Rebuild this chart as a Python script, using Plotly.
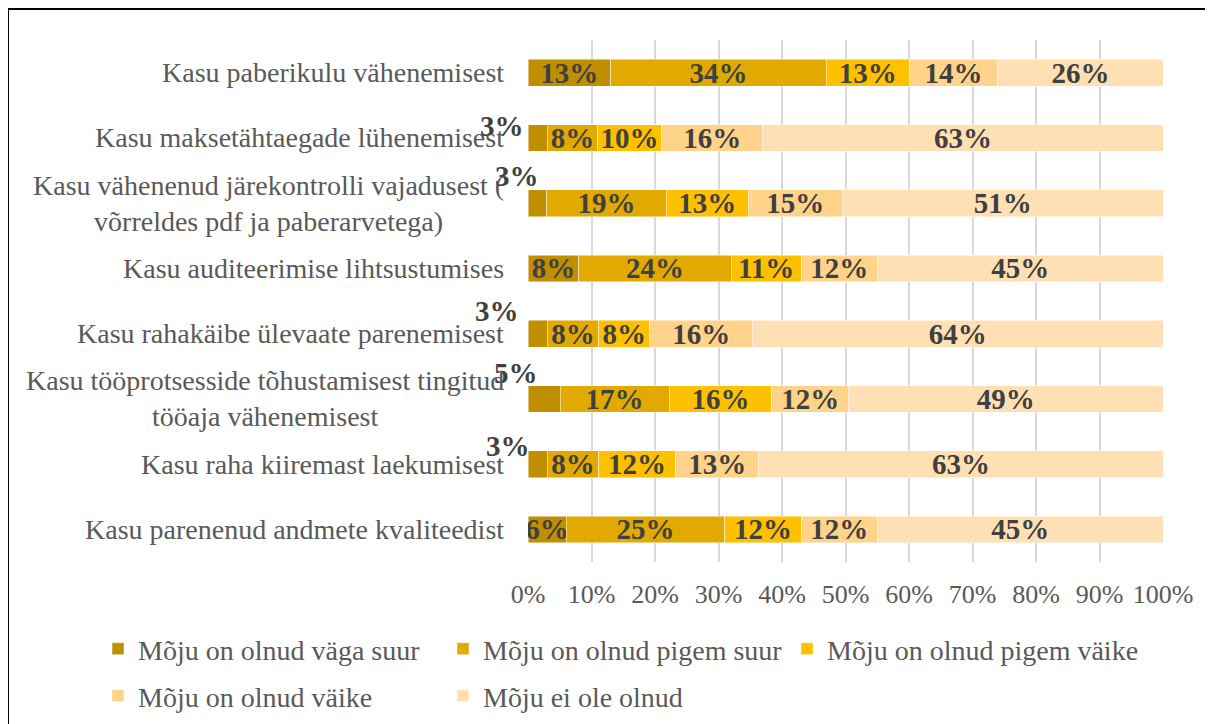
import plotly.graph_objects as go

categories = [
    "Kasu paberikulu vähenemisest",
    "Kasu maksetähtaegade lühenemisest",
    "Kasu vähenenud järekontrolli vajadusest (<br>võrreldes pdf ja paberarvetega)",
    "Kasu auditeerimise lihtsustumises",
    "Kasu rahakäibe ülevaate parenemisest",
    "Kasu tööprotsesside tõhustamisest tingitud<br>tööaja vähenemisest",
    "Kasu raha kiiremast laekumisest",
    "Kasu parenenud andmete kvaliteedist",
]

series_names = [
    "Mõju on olnud väga suur",
    "Mõju on olnud pigem suur",
    "Mõju on olnud pigem väike",
    "Mõju on olnud väike",
    "Mõju ei ole olnud",
]

vaga_suur = [13, 3, 3, 8, 3, 5, 3, 6]
pigem_suur = [34, 8, 19, 24, 8, 17, 8, 25]
pigem_vaike = [13, 10, 13, 11, 8, 16, 12, 12]
vaike = [14, 16, 15, 12, 16, 12, 13, 12]
ei_ole = [26, 63, 51, 45, 64, 49, 63, 45]

series_values = [vaga_suur, pigem_suur, pigem_vaike, vaike, ei_ole]
colors = ["#BF8F00", "#E2AA00", "#FFC000", "#FFD38A", "#FFE0B4"]

tick_vals = [0, 10, 20, 30, 40, 50, 60, 70, 80, 90, 100]
tick_text = [f"{v}%" for v in tick_vals]

# the page puts the figure 8px in from the top-left corner
OFF = 8
W, H = 1213, 724
ML, MT = 528 - OFF, 40 - OFF
MR = W - (1163 - OFF)
MB = H - (562 - OFF)
pw = W - ML - MR
ph = H - MT - MB

SERIF = "Liberation Serif, Times New Roman, serif"
LABEL_COLOR = "#404040"
TEXT_GRAY = "#595959"

# small labels that were moved out of the bar (xshift, yshift) by row index
moved = {1: (-26, 12), 2: (-11, 27), 4: (-31, 23), 5: (-12, 26), 6: (-20, 18)}

# legend rows: which legend each series goes to
legend_of = ["legend", "legend", "legend2", "legend3", "legend3"]

fig = go.Figure()
for i, (name, vals, col) in enumerate(zip(series_names, series_values, colors)):
    txt = []
    for r, v in enumerate(vals):
        if i == 0 and r in moved:
            txt.append("")
        else:
            txt.append(f"{v}%")
    fig.add_trace(go.Bar(
        y=categories, x=vals, name=name, orientation="h",
        marker=dict(color=col, line=dict(color="rgba(255,255,255,0.6)", width=0.8)),
        text=txt, textposition="inside", insidetextanchor="middle",
        constraintext="none",
        textfont=dict(family=SERIF, size=29, color=LABEL_COLOR, weight="bold"),
        hoverinfo="skip", legend=legend_of[i],
    ))

for r, (dx, dy) in moved.items():
    fig.add_annotation(
        x=0, y=categories[r], xref="x", yref="y", text=f"<b>{vaga_suur[r]}%</b>",
        showarrow=False, xanchor="center", yanchor="middle",
        xshift=dx, yshift=dy,
        font=dict(family=SERIF, size=29, color=LABEL_COLOR),
    )

# category labels as centred multi-line annotations
for c in categories:
    fig.add_annotation(
        x=0, y=c, xref="x", yref="y", text=c, showarrow=False,
        xanchor="right", yanchor="middle", align="center", xshift=-22,
        font=dict(family=SERIF, size=28, color=TEXT_GRAY),
    )

# outer frame (right and bottom edges fall outside the picture)
fig.add_shape(
    type="rect", xref="paper", yref="paper",
    x0=(0 - ML) / pw, x1=(W + 10 - ML) / pw,
    y0=(MT + ph - (H + 10)) / ph, y1=(MT + ph - 1) / ph,
    line=dict(color="black", width=2), layer="above",
)


def legend_at(px, py, entry=300):
    leg = dict(
        orientation="h", x=(px - OFF - ML) / pw, xanchor="left",
        y=(MT + ph - (py - OFF)) / ph, yanchor="top",
        font=dict(family=SERIF, size=28, color=TEXT_GRAY),
        traceorder="normal", itemwidth=30, bgcolor="rgba(0,0,0,0)",
    )
    if entry:
        leg.update(entrywidth=entry, entrywidthmode="pixels")
    return leg


fig.update_layout(
    width=W, height=H,
    margin=dict(l=ML, r=MR, t=MT, b=MB, autoexpand=False),
    barmode="stack", barnorm="percent", bargap=0.59,
    plot_bgcolor="white", paper_bgcolor="white",
    font=dict(family=SERIF, color=TEXT_GRAY),
    showlegend=True,
    legend=legend_at(98, 624),
    legend2=legend_at(787, 624, entry=None),
    legend3=legend_at(98, 671),
)
fig.update_xaxes(
    range=[0, 100], tickvals=tick_vals, ticktext=tick_text,
    showgrid=True, gridcolor="#D9D9D9", gridwidth=1.5,
    zeroline=False, showline=False, ticks="",
    tickfont=dict(family=SERIF, size=26, color=TEXT_GRAY),
    ticklabelstandoff=14, fixedrange=True,
)
fig.update_yaxes(
    autorange="reversed", showticklabels=False, showgrid=False,
    zeroline=False, showline=False, ticks="", fixedrange=True,
)

fig.write_html("out.html")
